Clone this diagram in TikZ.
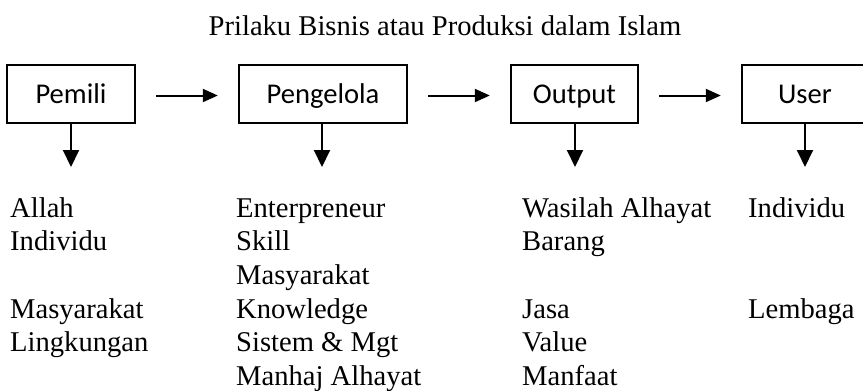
\documentclass[tikz,border=0pt]{standalone}
\usepackage{fontspec}
\setmainfont{Liberation Serif}
\newfontfamily\boxfont{Carlito}
\usetikzlibrary{arrows.meta}
\begin{document}
\begin{tikzpicture}[x=1pt,y=-1pt,
  box/.style={draw, line width=1.4pt, minimum height=58pt, inner sep=0pt,
    text height=18.4pt, text depth=0pt,
    font=\boxfont\fontsize{28.6}{34}\selectfont},
  lbl/.style={anchor=base west, inner sep=0pt, font=\fontsize{28.6}{34}\selectfont},
  flow/.style={line width=2pt, -{Triangle[length=15pt,width=13pt]},
    shorten <=20.5pt, shorten >=20.5pt},
  down/.style={line width=2pt, -{Triangle[length=17pt,width=16pt]}}]
\useasboundingbox (0,0) rectangle (863,391);
\clip (0,0) rectangle (863,391);

\node[lbl, anchor=base] (title) at (445,35) {Prilaku Bisnis atau Produksi dalam Islam};

\node[box, minimum width=128pt] (b1) at (71,94) {Pemili};
\node[box, minimum width=168pt] (b2) at (323,94) {Pengelola};
\node[box, minimum width=127pt] (b3) at (574.5,94) {Output};
\node[box, minimum width=126pt] (b4) at (805,94) {User};

\draw[flow] ([yshift=-1.5pt]b1.east) -- ([yshift=-1.5pt]b2.west);
\draw[flow] ([yshift=-1.5pt]b2.east) -- ([yshift=-1.5pt]b3.west);
\draw[flow] ([yshift=-1.5pt]b3.east) -- ([yshift=-1.5pt]b4.west);

\coordinate (d1) at (71,167);
\coordinate (d2) at (322,167);
\coordinate (d3) at (575,167);
\coordinate (d4) at (805,167);
\draw[down] (b1.south -| d1) -- (d1);
\draw[down] (b2.south -| d2) -- (d2);
\draw[down] (b3.south -| d3) -- (d3);
\draw[down] (b4.south -| d4) -- (d4);

% column 1
\node[lbl] (c1a) at (10,217) {Allah};
\node[lbl] (c1b) at (10,250.6) {Individu};
\node[lbl] (c1c) at (10,318) {Masyarakat};
\node[lbl] (c1d) at (10,351.5) {Lingkungan};
% column 2
\node[lbl] (c2a) at (236,217) {Enterpreneur};
\node[lbl] (c2b) at (236,250.6) {Skill};
\node[lbl] (c2c) at (236,284.3) {Masyarakat};
\node[lbl] (c2d) at (236,318) {Knowledge};
\node[lbl] (c2e) at (236,351.5) {Sistem \& Mgt};
\node[lbl] (c2f) at (236,385) {Manhaj Alhayat};
% column 3
\node[lbl] (c3a) at (522,217) {Wasilah Alhayat};
\node[lbl] (c3b) at (522,250.6) {Barang};
\node[lbl] (c3c) at (522,318) {Jasa};
\node[lbl] (c3d) at (522,351.5) {Value};
\node[lbl] (c3e) at (522,385) {Manfaat};
% column 4
\node[lbl] (c4a) at (748,217) {Individu};
\node[lbl] (c4b) at (748,318) {Lembaga};
\end{tikzpicture}
\end{document}
